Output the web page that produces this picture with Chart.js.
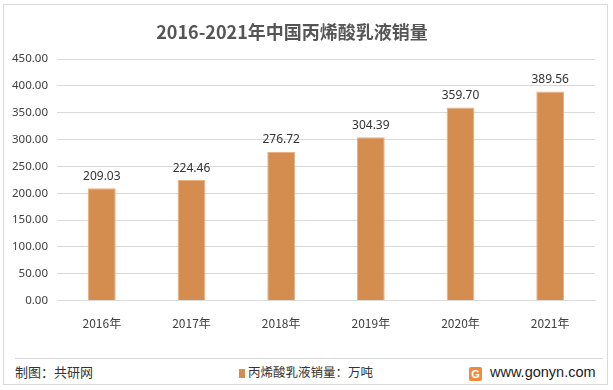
<!DOCTYPE html>
<html>
<head>
<meta charset="utf-8">
<script src="https://cdn.jsdelivr.net/npm/chart.js@4"></script>
<style>
  body { margin: 0; background: #fff; font-family: "Noto Sans CJK SC", "Noto Sans", sans-serif; }
  #frame { position: absolute; left: 3px; top: 4px; width: 605px; height: 381px; border: 1px solid #d9d9d9; box-sizing: border-box; }
  #wrap { position: absolute; left: 0; top: 0; width: 603px; height: 334px; }
  #title { position: absolute; left: 88px; width: 400px; top: 14px; text-align: center; font-size: 18px; font-weight: bold; color: #555; line-height: 24px; }
  #sep { position: absolute; left: 11px; top: 353px; width: 588px; border-top: 1px solid #d9d9d9; }
  .foot { position: absolute; top: 358px; font-size: 13px; color: #333; line-height: 18px; }
  #src { left: 11px; }
  #leg { left: 235px; font-size: 12.5px; }
  #leg i { display: inline-block; width: 6px; height: 9px; background: #d48c4f; margin-right: 3px; vertical-align: -1px; }
  #site { left: 465px; font-size: 14.5px; font-family: "Liberation Sans", sans-serif; color: #222; }
  #logo { display: inline-block; width: 13px; height: 14px; background: #f08a3c; color: #fff; font-size: 11px; font-weight: bold; text-align: center; line-height: 14px; margin-right: 8px; vertical-align: -1px; border-radius: 2px; }
</style>
</head>
<body>
<div id="frame">
  <div id="wrap"><canvas id="salesChart"></canvas></div>
  <div id="title">2016-2021年中国丙烯酸乳液销量</div>
  <div id="sep"></div>
  <div class="foot" id="src">制图：共研网</div>
  <div class="foot" id="leg"><i></i>丙烯酸乳液销量：万吨</div>
  <div class="foot" id="site"><span id="logo">G</span>www.gonyn.com</div>
</div>
<script>
const years = ['2016年', '2017年', '2018年', '2019年', '2020年', '2021年'];
const sales = [209.03, 224.46, 276.72, 304.39, 359.70, 389.56];
const yTicks = { min: 0, max: 450, step: 50 };

// value labels above each bar
const barLabels = {
  id: 'barLabels',
  afterDatasetsDraw(chart) {
    const c = chart.ctx;
    const meta = chart.getDatasetMeta(0);
    c.save();
    c.font = '12px "Noto Sans", sans-serif';
    c.fillStyle = '#333';
    c.textAlign = 'center';
    c.textBaseline = 'bottom';
    meta.data.forEach((bar, i) => {
      c.fillText(sales[i].toFixed(2), bar.x, bar.y - 6);
    });
    c.restore();
  }
};

new Chart(document.getElementById('salesChart'), {
  type: 'bar',
  data: {
    labels: years,
    datasets: [{
      label: '丙烯酸乳液销量：万吨',
      data: sales,
      backgroundColor: '#d48c4f',
      borderColor: '#e8b283',
      borderWidth: 1,
      categoryPercentage: 1,
      barPercentage: 0.31
    }]
  },
  options: {
    responsive: true,
    maintainAspectRatio: false,
    animation: false,
    layout: { padding: { top: 54, right: 12, left: 1, bottom: 0 } },
    plugins: {
      legend: { display: false },
      tooltip: { enabled: false },
      title: { display: false }
    },
    scales: {
      x: {
        grid: { display: false },
        border: { color: '#d9d9d9' },
        ticks: { color: '#404040', font: { size: 12, family: '"Noto Sans CJK SC", sans-serif' }, padding: 8 }
      },
      y: {
        min: yTicks.min,
        max: yTicks.max,
        grid: { color: '#d9d9d9', drawTicks: false },
        border: { display: false },
        afterFit(scale) { scale.width = 52; },
        ticks: {
          stepSize: yTicks.step,
          color: '#404040',
          padding: 9,
          font: { size: 11.5, family: '"Noto Sans", sans-serif' },
          callback: v => v.toFixed(2)
        }
      }
    }
  },
  plugins: [barLabels]
});
</script>
</body>
</html>
